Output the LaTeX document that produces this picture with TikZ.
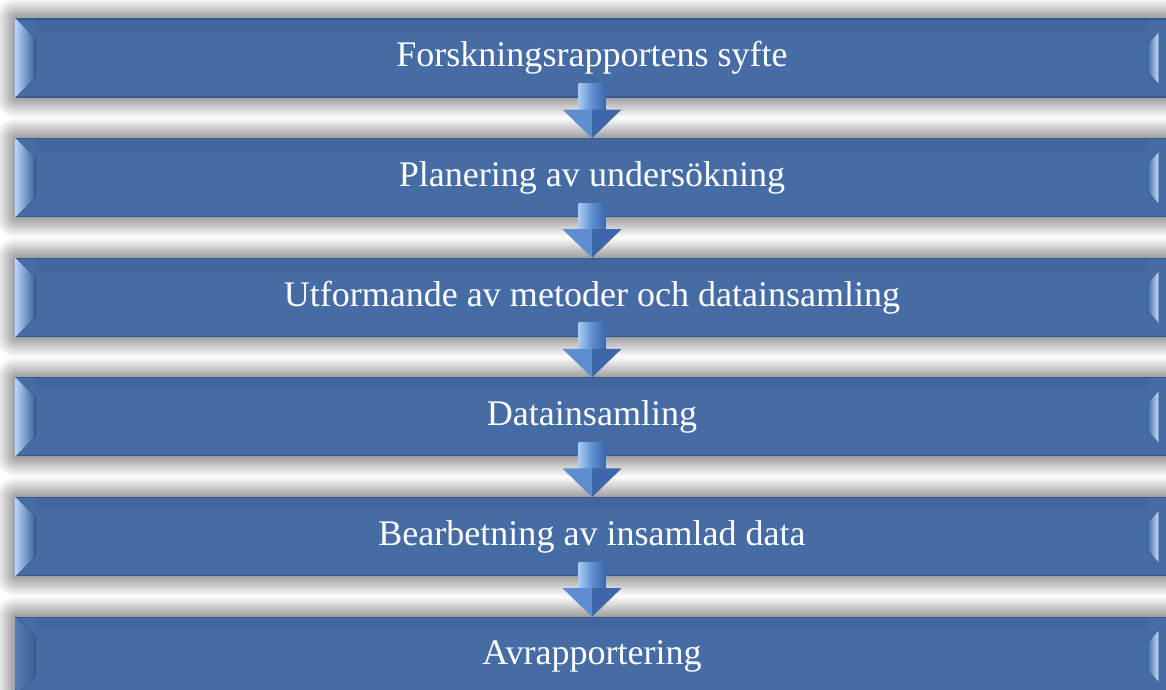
\documentclass[tikz,border=0pt]{standalone}
\usepackage{fontspec}
\setmainfont{Liberation Serif}
\usepackage{tikz}
\usetikzlibrary{calc,positioning,shadows.blur}
\definecolor{boxblue}{HTML}{466CA6}
\definecolor{boxedge}{HTML}{37598C}
\definecolor{bevellight}{HTML}{B4D4FA}
\definecolor{beveldark}{HTML}{3C5F95}
\definecolor{arrowlight}{HTML}{A9CBF5}
\definecolor{arrowmid}{HTML}{5F8ED0}
\definecolor{arrowdark}{HTML}{3D67A8}
\tikzset{
  stepbox/.style={rectangle, fill=boxblue, draw=boxedge, line width=0.6pt,
    minimum width=23.04cm, minimum height=1.56cm, text=white,
    font=\fontsize{20.5}{24}\selectfont,
    blur shadow={shadow xshift=0pt, shadow yshift=0pt,
      shadow blur radius=12pt, shadow blur steps=20, shadow opacity=80}},
  topband/.style={fill=black, fill opacity=0.05},
  leftface/.style={left color=bevellight, middle color=boxblue, right color=beveldark},
  dimface/.style={left color=boxblue!85!bevellight, right color=beveldark},
  rightface/.style={left color=boxblue, right color=bevellight!80!white}
}
% bevel faces on one step box
\newcommand{\bevel}[2]{
  \fill[topband] ($(#1.north west)+(0.4,-0.02)$) rectangle ($(#1.north east)+(-0.4,-0.26)$);
  \fill[#2] (#1.north west) -- ++(0.4,-0.4) -- ($(#1.south west)+(0.4,0.4)$)
    -- (#1.south west) -- cycle;
  \fill[rightface] ($(#1.north east)+(-0.2,-0.28)$) -- ($(#1.north east)+(-0.42,-0.52)$)
    -- ($(#1.south east)+(-0.42,0.52)$) -- ($(#1.south east)+(-0.2,0.28)$) -- cycle;
}
% block arrow from one step to the next
\newcommand{\flowarrow}[2]{
  \fill[left color=arrowlight, right color=arrowmid]
    ($(#1.south)+(-0.27,0.28)$) rectangle ($(#1.south)+(0,-0.24)$);
  \fill[left color=arrowmid, right color=arrowdark]
    ($(#1.south)+(0,0.28)$) rectangle ($(#1.south)+(0.27,-0.24)$);
  \fill[arrowmid] ($(#1.south)+(-0.59,-0.24)$) -- ($(#1.south)+(0,-0.24)$) -- (#2.north) -- cycle;
  \fill[arrowdark] ($(#1.south)+(0,-0.24)$) -- ($(#1.south)+(0.59,-0.24)$) -- (#2.north) -- cycle;
}

\begin{document}
\begin{tikzpicture}
  \useasboundingbox (0,0) rectangle (23.32,-13.8);

  \node[stepbox] (syfte) at (11.84,-1.16) {Forskningsrapportens syfte};
  \node[stepbox, below=0.812cm of syfte] (plan) {Planering av undersökning};
  \node[stepbox, below=0.812cm of plan] (metod) {Utformande av metoder och datainsamling};
  \node[stepbox, below=0.812cm of metod] (insamling) {Datainsamling};
  \node[stepbox, below=0.812cm of insamling] (bearb) {Bearbetning av insamlad data};
  \node[stepbox, below=0.812cm of bearb] (rapport) {Avrapportering};

  \foreach \s in {syfte,plan,metod,insamling,bearb}
    \bevel{\s}{leftface};
  \bevel{rapport}{dimface}

  \flowarrow{syfte}{plan}
  \flowarrow{plan}{metod}
  \flowarrow{metod}{insamling}
  \flowarrow{insamling}{bearb}
  \flowarrow{bearb}{rapport}
\end{tikzpicture}
\end{document}
